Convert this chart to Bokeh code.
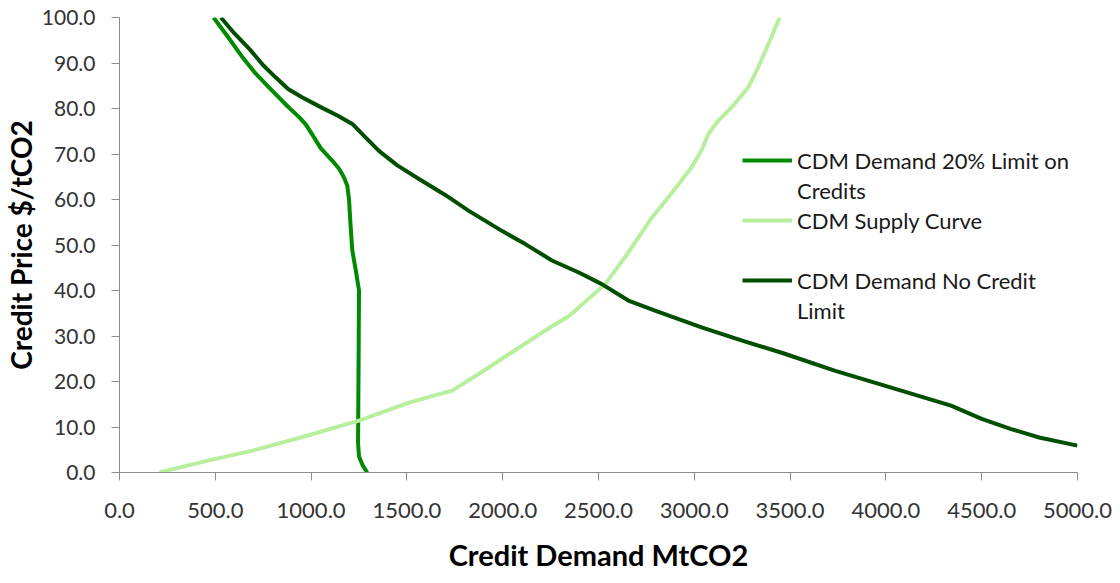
from bokeh.plotting import figure
from bokeh.models import Range1d, NumeralTickFormatter, SingleIntervalTicker, Legend, LegendItem
from bokeh.embed import file_html
from bokeh.resources import INLINE

# Data
limit20_x = [491, 570, 643, 710, 781, 877, 940, 972, 1007, 1050, 1111, 1145, 1170, 1189, 1198, 1205, 1215, 1235, 1250, 1248, 1245, 1250, 1270, 1293]
limit20_y = [100, 95.5, 91.2, 87.7, 84.6, 80.5, 78, 76.5, 74.2, 71.3, 68.5, 66.8, 65, 63, 60, 55, 48.8, 44, 40, 25, 6.5, 3.5, 1.5, 0]

supply_x = [208, 450, 694, 955, 1250, 1493, 1650, 1736, 1850, 1996, 2222, 2350, 2430, 2535, 2650, 2778, 2865, 2986, 3040, 3073, 3125, 3200, 3281, 3333, 3390, 3446]
supply_y = [0, 2.5, 4.8, 7.8, 11.4, 15.1, 17, 18.0, 21, 25, 31.2, 34.5, 37.5, 41.4, 48, 56, 60.5, 67.1, 71, 74.4, 77.3, 80.5, 84.6, 89, 94.5, 100]

nolimit_x = [529, 600, 680, 750, 816, 880, 955, 1050, 1140, 1215, 1280, 1354, 1450, 1563, 1700, 1823, 2000, 2118, 2257, 2400, 2517, 2656, 2795, 3038, 3250, 3472, 3732, 4080, 4340, 4500, 4650, 4800, 5000]
nolimit_y = [100, 96.5, 93, 89.5, 86.8, 84.3, 82.4, 80.3, 78.4, 76.6, 73.8, 70.7, 67.5, 64.5, 61, 57.5, 53, 50.2, 46.6, 43.9, 41.4, 37.8, 35.6, 31.9, 29, 26.1, 22.4, 18.0, 14.7, 11.8, 9.6, 7.7, 5.9]

# legend rows (Excel-style wrapped labels)
legend_rows = ["CDM Demand 20% Limit on", "Credits", "CDM Supply Curve", " ", "CDM Demand No Credit", "Limit"]
colors = ["#008a00", "#b8ef9f", "#004f00"]

FONT = "Lato"

p = figure(width=1112, height=583, output_backend="svg", toolbar_location=None,
           x_range=Range1d(0, 5000), y_range=Range1d(0, 100),
           min_border_left=117, min_border_right=35, min_border_top=17, min_border_bottom=111)
p.outline_line_color = None
p.xgrid.visible = False
p.ygrid.visible = False

r1 = p.line(limit20_x, limit20_y, line_color=colors[0], line_width=4, line_join="round")
r2 = p.line(supply_x, supply_y, line_color=colors[1], line_width=4, line_join="round")
r3 = p.line(nolimit_x, nolimit_y, line_color=colors[2], line_width=4, line_join="round")
blank = p.line([], [], line_alpha=0)

for ax in (p.xaxis[0], p.yaxis[0]):
    ax.axis_line_color = "#8c8c8c"
    ax.major_tick_line_color = "#8c8c8c"
    ax.major_tick_out = 8
    ax.major_tick_in = 0
    ax.minor_tick_line_color = None
    ax.major_label_text_font = FONT
    ax.major_label_text_color = "#333333"
    ax.axis_label_text_font = FONT
    ax.axis_label_text_font_style = "bold"
    ax.axis_label_text_color = "#000000"
    ax.formatter = NumeralTickFormatter(format="0.0")

p.xaxis.major_label_text_font_size = "22px"
p.yaxis.major_label_text_font_size = "21px"
p.xaxis.axis_label_text_font_size = "29px"
p.yaxis.axis_label_text_font_size = "28px"

p.xaxis.ticker = SingleIntervalTicker(interval=500)
p.yaxis.ticker = SingleIntervalTicker(interval=10)
p.xaxis.axis_label = "Credit Demand MtCO2"
p.yaxis.axis_label = "Credit Price $/tCO2"
p.xaxis.major_label_standoff = 22
p.yaxis.major_label_standoff = 16
p.xaxis.axis_label_standoff = 16
p.yaxis.axis_label_standoff = 1

items = [LegendItem(label=legend_rows[0], renderers=[r1]),
         LegendItem(label=legend_rows[1], renderers=[blank]),
         LegendItem(label=legend_rows[2], renderers=[r2]),
         LegendItem(label=legend_rows[3], renderers=[blank]),
         LegendItem(label=legend_rows[4], renderers=[r3]),
         LegendItem(label=legend_rows[5], renderers=[blank])]
legend = Legend(items=items, location=(623, 147), orientation="vertical")
legend.background_fill_alpha = 0
legend.border_line_color = None
legend.label_text_font = FONT
legend.label_text_font_size = "22px"
legend.label_text_color = "#1a1a1a"
legend.glyph_width = 50
legend.glyph_height = 30
legend.label_height = 30
legend.label_standoff = 5
legend.padding = 0
legend.margin = 0
legend.spacing = 0
p.add_layout(legend, "center")

open("out.html", "w").write(file_html(p, INLINE))
